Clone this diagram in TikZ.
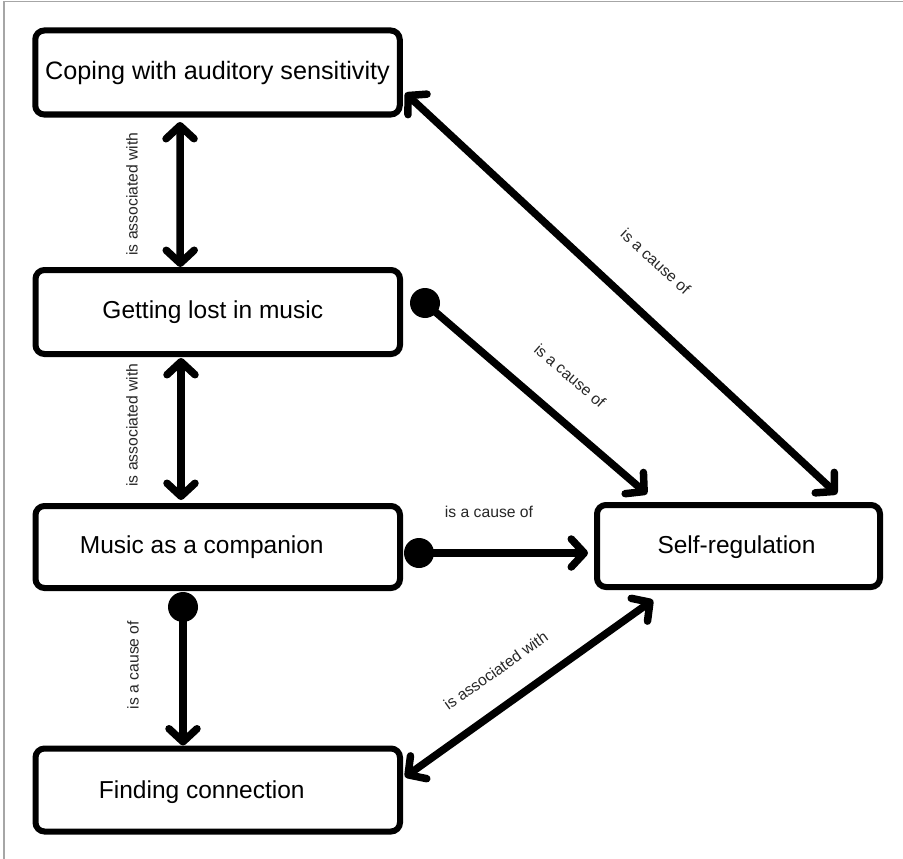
\documentclass[tikz,border=0pt]{standalone}
\usepackage{fontspec}
\setmainfont{Liberation Sans}
\usetikzlibrary{arrows.meta}
\begin{document}
\begin{tikzpicture}[x=1pt,y=-1pt,
  box/.style={draw, line width=6pt, rounded corners=9pt, minimum width=364.5pt,
    minimum height=84pt, inner sep=0pt, font=\fontsize{24.5}{28}\selectfont},
  boxtext/.style={font=\fontsize{24.5}{28}\selectfont},
  conn/.style={line width=7.5pt, line cap=round, line join=round},
  lbl/.style={font=\fontsize{15.7}{18}\selectfont, text=black!85, inner sep=0pt},
  dotc/.style={circle, fill=black, minimum size=30pt, inner sep=0pt},
  >={Straight Barb[length=13pt,width=28pt,line cap=round,line join=round]}]
\useasboundingbox (0,0) rectangle (903,859);
\draw[gray!70, line width=1.2pt] (4,859) -- (4,1.5) -- (903,1.5);

% boxes
\node[box, font=\fontsize{25.2}{29}\selectfont] (cope) at (217.5,72.5) {Coping with auditory sensitivity};
\node[box, label={[xshift=-5pt,boxtext]center:Getting lost in music}] (lost) at (217.75,312) {};
\node[box, minimum height=82pt, label={[xshift=-16pt,boxtext]center:Music as a companion}] (music) at (217.75,547) {};
\node[box, minimum height=83pt, label={[xshift=-16pt,yshift=-2pt,boxtext]center:Finding connection}] (fc) at (217.75,790) {};
\node[box, minimum width=283pt, minimum height=82pt, label={[xshift=-2pt,yshift=-1pt,boxtext]center:Self-regulation}] (sr) at (738.5,546) {};

% dots
\node[dotc] (d1) at (425,303) {};
\node[dotc] (d2) at (419,553) {};
\node[dotc] (d3) at (183,607) {};

% connectors
\draw[conn,<->] ([xshift=-37.5pt,yshift=-4.5pt]cope.south) -- ([xshift=-37.5pt]lost.north);
\draw[conn,<->] ([xshift=-36.75pt,yshift=-1pt]lost.south) -- ([xshift=-36.75pt,yshift=3pt]music.north);
\draw[conn,->] (d3.center) -- ([xshift=-34.75pt]fc.north);
\draw[conn,->] (d2.center) -- ([xshift=-6pt,yshift=-7pt]sr.west);
\draw[conn,->] (d1.center) -- ([xshift=-91.5pt,yshift=8pt]sr.north);
\draw[conn,<->] ([xshift=2.5pt,yshift=-20.5pt]cope.east) -- ([xshift=98.5pt,yshift=8pt]sr.north);
\draw[conn,<->] ([xshift=2pt,yshift=13pt]fc.east) -- ([xshift=-85.5pt,yshift=-10pt]sr.south);

% labels
\node[lbl, rotate=90] (la) at (132,194) {is associated with};
\node[lbl, rotate=90] (lb) at (132,425) {is associated with};
\node[lbl, rotate=90] (lc) at (133,665) {is a cause of};
\node[lbl] (ld) at (489,512) {is a cause of};
\node[lbl, rotate=-41] (le) at (570,375.7) {is a cause of};
\node[lbl, rotate=-42.7] (lf) at (655.7,261.7) {is a cause of};
\node[lbl, rotate=35.3] (lg) at (495.7,670.7) {is associated with};
\end{tikzpicture}
\end{document}
